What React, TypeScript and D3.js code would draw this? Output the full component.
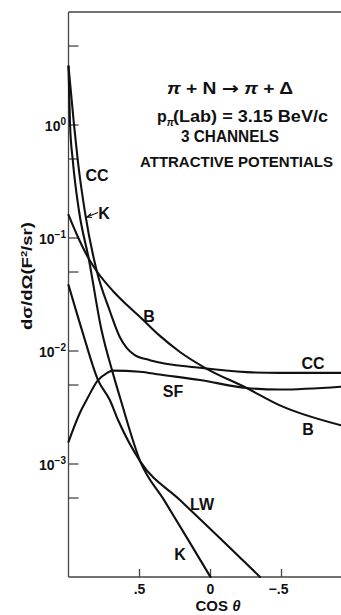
import React from "react";
import * as d3 from "d3";

// Differential cross section vs cos(theta), pi + N -> pi + Delta, three channels
const ccCos = [1.0, 0.961, 0.935, 0.883, 0.801, 0.709, 0.639, 0.589, 0.533, 0.427, 0.075, -0.256, -0.488, -0.918];
const ccVal = [3.3, 1.0, 0.49, 0.166, 0.051, 0.0226, 0.0133, 0.0106, 0.0092, 0.0083, 0.0071, 0.0065, 0.0064, 0.0064];

const kCos = [1.0, 0.989, 0.97, 0.927, 0.857, 0.768, 0.688, 0.632, 0.494, 0.33, 0.158, 0.0];
const kVal = [3.3, 1.0, 0.49, 0.177, 0.0652, 0.0154, 0.0064, 0.00368, 0.00105, 0.000486, 0.000214, 0.0001];

const bCos = [1.0, 0.94, 0.856, 0.792, 0.687, 0.588, 0.496, 0.356, 0.215, 0.039, -0.255, -0.489, -0.919];
const bVal = [0.16, 0.1064, 0.0652, 0.049, 0.034, 0.0255, 0.02, 0.0136, 0.0098, 0.0071, 0.0047, 0.0033, 0.0022];

const sfCos = [1.0, 0.92, 0.873, 0.792, 0.732, 0.686, 0.498, 0.357, 0.075, -0.254, -0.488, -0.918];
const sfVal = [0.00157, 0.00283, 0.00368, 0.00553, 0.00635, 0.0067, 0.00656, 0.00619, 0.00553, 0.00471, 0.00456, 0.00483];

const lwCos = [1.0, 0.899, 0.792, 0.709, 0.651, 0.494, 0.215, -0.067, -0.349];
const lwVal = [0.0384, 0.0144, 0.00553, 0.00368, 0.00245, 0.00105, 0.00048, 0.00022, 0.0001];

const yMajorTicks = [1, 0.1, 0.01, 0.001];
const yMajorExp = ["0", "−1", "−2", "−3"];
const yMinorTicks = [5, 0.5, 0.05, 0.005, 0.0005];
const xTicks = [0.5, 0, -0.5];
const xTickLabels = [".5", "0", "−.5"];

const W = 341;
const H = 615;
const left = 68.5;
const top = 12;
const bottom = 577;

const x = d3.scaleLinear().domain([1, -1]).range([left, 352.5]);
const y = d3.scaleLog().domain([1e-4, 10]).range([bottom, top]);

const line = d3
  .line<[number, number]>()
  .x((d) => x(d[0]))
  .y((d) => y(d[1]))
  .curve(d3.curveMonotoneX);

const zip = (c: number[], v: number[]) => c.map((cv, i) => [cv, v[i]] as [number, number]);

const series = [
  zip(ccCos, ccVal),
  zip(kCos, kVal),
  zip(bCos, bVal),
  zip(sfCos, sfVal),
  zip(lwCos, lwVal),
];

const font = "'Liberation Sans', Arial, sans-serif";
const ink = "#111";

export default function App() {
  const labelStyle = { fontFamily: font, fontWeight: 700, fontSize: 16, fill: ink } as const;
  const noteStyle = { ...labelStyle, fontSize: 16 };
  return (
    <svg
      width={W}
      height={H}
      viewBox={`0 0 ${W} ${H}`}
      style={{ position: "absolute", left: 0, top: 0, background: "#fff" }}
    >
      {/* frame */}
      <g stroke="#444" strokeWidth={1.3} fill="none">
        <line x1={left} y1={top} x2={W} y2={top} />
        <line x1={left} y1={top} x2={left} y2={bottom} />
        <line x1={left} y1={bottom} x2={W} y2={bottom} />
      </g>

      {/* y ticks */}
      <g stroke="#444" strokeWidth={1.3}>
        {yMajorTicks.concat(yMinorTicks).map((t) => (
          <line key={t} x1={left} x2={left + 10} y1={y(t)} y2={y(t)} />
        ))}
      </g>
      {yMajorTicks.map((t, i) => (
        <text key={t} x={66} y={y(t) + 6} textAnchor="end" style={{ ...labelStyle, fontSize: 14 }}>
          10
          <tspan dy={-6} fontSize={10}>
            {yMajorExp[i]}
          </tspan>
        </text>
      ))}

      {/* x ticks */}
      <g stroke="#444" strokeWidth={1.3}>
        {xTicks.map((t) => (
          <line key={t} x1={x(t)} x2={x(t)} y1={bottom} y2={bottom - 8} />
        ))}
      </g>
      {xTicks.map((t, i) => (
        <text key={t} x={x(t) - (i === 2 ? 3 : 0)} y={594} textAnchor="middle" style={{ ...labelStyle, fontSize: 14 }}>
          {xTickLabels[i]}
        </text>
      ))}
      <text x={218} y={611} textAnchor="middle" style={{ ...labelStyle, fontSize: 15 }}>
        COS <tspan fontStyle="italic">θ</tspan>
      </text>

      {/* y title */}
      <text
        transform="translate(32,276) rotate(-90)"
        textAnchor="middle"
        textLength={108}
        lengthAdjust="spacingAndGlyphs"
        style={{ ...labelStyle, fontSize: 15 }}
      >
        dσ/dΩ(F<tspan dy={-5} fontSize={9}>2</tspan>
        <tspan dy={5}>/sr)</tspan>
      </text>

      {/* curves */}
      <g fill="none" stroke={ink} strokeWidth={2.1} strokeLinejoin="round" strokeLinecap="round">
        {series.map((s, i) => (
          <path key={i} d={line(s) || ""} />
        ))}
      </g>

      {/* curve labels */}
      <text x={97} y={181} textAnchor="middle" style={labelStyle}>CC</text>
      <text x={104} y={219} textAnchor="middle" style={labelStyle}>K</text>
      <g stroke={ink} strokeWidth={1.1} fill="none">
        <line x1={98} y1={212.5} x2={87} y2={217} />
        <polyline points="91,213.5 87,217 92,217.5" />
      </g>
      <text x={149} y={322} textAnchor="middle" style={labelStyle}>B</text>
      <text x={313} y={369} textAnchor="middle" style={labelStyle}>CC</text>
      <text x={173} y={397} textAnchor="middle" style={labelStyle}>SF</text>
      <text x={308} y={435} textAnchor="middle" style={labelStyle}>B</text>
      <text x={202} y={510} textAnchor="middle" style={labelStyle}>LW</text>
      <text x={180} y={560} textAnchor="middle" style={labelStyle}>K</text>

      {/* reaction annotation */}
      <text x={230} y={94} textAnchor="middle" textLength={126} lengthAdjust="spacingAndGlyphs" style={noteStyle}>
        <tspan fontStyle="italic">π</tspan> + N <tspan fontFamily="'DejaVu Sans', sans-serif" fontSize={17}>→</tspan>{" "}
        <tspan fontStyle="italic">π</tspan> + Δ
      </text>
      <text x={157} y={122} style={noteStyle}>
        p<tspan dy={4} fontSize={10} fontStyle="italic">π</tspan>
      </text>
      <text x={173} y={122} textLength={155} lengthAdjust="spacingAndGlyphs" style={noteStyle}>
        (Lab) = 3.15 BeV/c
      </text>
      <text x={230} y={142} textAnchor="middle" textLength={98} lengthAdjust="spacingAndGlyphs" style={noteStyle}>
        3 CHANNELS
      </text>
      <text x={236.5} y={167} textAnchor="middle" textLength={193} lengthAdjust="spacingAndGlyphs" style={{ ...noteStyle, fontSize: 15 }}>
        ATTRACTIVE POTENTIALS
      </text>
    </svg>
  );
}
